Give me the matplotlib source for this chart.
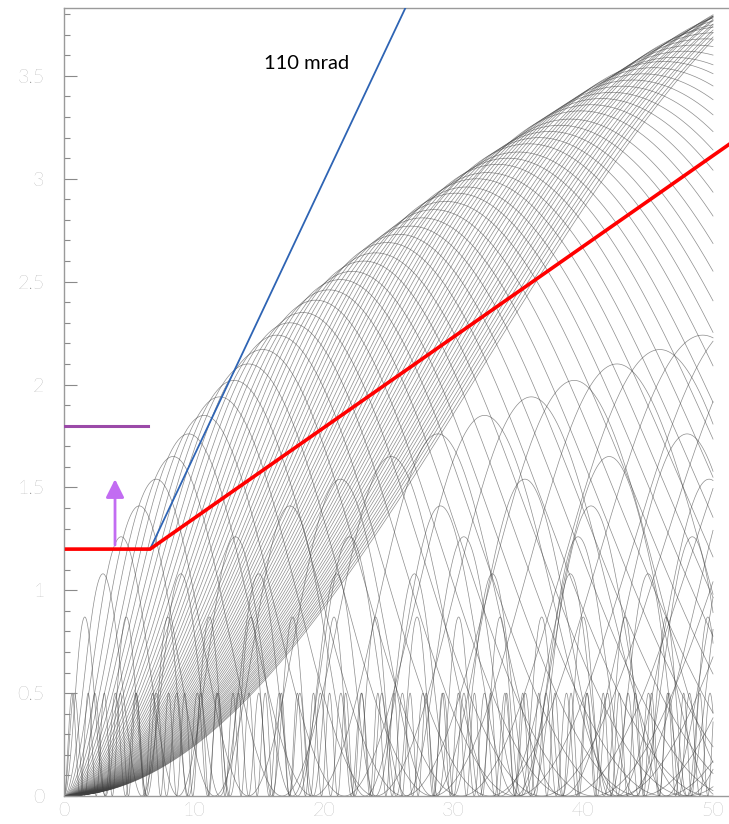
import numpy as np
import matplotlib
matplotlib.use("Agg")
import matplotlib.pyplot as plt
from matplotlib.ticker import MultipleLocator, FixedLocator

# ---------------- data ----------------
# helical tracks: z of first maximum and maximum radius of each track
track_peak_z = [1.6, 3.0, 4.4, 5.8, 7.1, 8.4, 9.6, 10.8, 12.0, 13.1, 14.2,
                15.3, 16.4, 17.4, 18.4, 19.4, 20.4, 21.3, 22.2, 23.1, 24.0,
                24.9, 25.8, 26.7, 27.6, 28.5, 29.4, 30.2, 31.0, 31.8, 32.6,
                33.4, 34.2, 35.0, 35.8, 36.6, 37.4, 38.2, 39.0, 39.8, 40.6,
                41.4, 42.2, 43.0, 43.8, 44.6, 45.4, 46.2, 47.0, 47.8, 48.6,
                49.4, 50.2, 51.0, 51.8, 52.6, 53.4, 54.2, 55.0, 55.8, 56.6,
                57.4, 58.2, 59.0, 59.8, 60.6, 61.4, 62.2, 63.0, 63.8, 64.6]
track_peak_r = [0.87, 1.08, 1.26, 1.41, 1.54, 1.65, 1.76, 1.85, 1.94, 2.02, 2.10,
                2.17, 2.24, 2.30, 2.35, 2.41, 2.46, 2.51, 2.55, 2.60, 2.64,
                2.69, 2.73, 2.77, 2.81, 2.85, 2.89, 2.93, 2.96, 3.00, 3.03,
                3.07, 3.10, 3.13, 3.17, 3.20, 3.23, 3.26, 3.29, 3.33, 3.36,
                3.39, 3.42, 3.45, 3.48, 3.51, 3.54, 3.57, 3.59, 3.62, 3.65,
                3.68, 3.71, 3.74, 3.76, 3.79, 3.82, 3.84, 3.87, 3.90, 3.92,
                3.95, 3.98, 4.00, 4.03, 4.05, 4.08, 4.10, 4.13, 4.15, 4.18]
# low-momentum loopers (max radius 0.5)
looper_peak_z = [0.62, 0.79]
looper_peak_r = [0.50, 0.50]
track_z_end = 50.0

# drawn lines
red_z = [0.2, 6.63, 51.3]
red_r = [1.2, 1.2, 3.17]
blue_z = [6.63, 26.3]
blue_r = [1.2, 3.83]
purple_z = [0.0, 6.5]
purple_r = [1.8, 1.8]
arrow_z = 3.93
arrow_r = [1.22, 1.54]
label_text = "110 mrad"
label_pos = (18.7, 3.56)

x_ticks = [0, 10, 20, 30, 40, 50]
y_ticks = [0, 0.5, 1, 1.5, 2, 2.5, 3, 3.5]
y_ticklabels = ["0", "0.5", "1", "1.5", "2", "2.5", "3", "3.5"]

# ---------------- figure ----------------
W, H = 729, 824
fig = plt.figure(figsize=(W / 100, H / 100), dpi=100)
ax = fig.add_axes([64 / W, (H - 796) / H, (W - 64) / W, (796 - 8) / H])
ax.set_xlim(0, 51.23)
ax.set_ylim(0, 3.83)

z = np.linspace(0, track_z_end, 4000)
for zp, rp in zip(track_peak_z + looper_peak_z, track_peak_r + looper_peak_r):
    r = 0.5 * rp * (1.0 - np.cos(np.pi * z / zp))
    ax.plot(z, r, color="#404040", lw=0.5, alpha=0.6, zorder=1)

ax.plot(blue_z, blue_r, color="#2e64b4", lw=1.3, zorder=3)
ax.plot(red_z, red_r, color="#ff0000", lw=2.6, zorder=4, solid_joinstyle="miter")
ax.plot(purple_z, purple_r, color="#9b4aa8", lw=2.2, zorder=4)
ax.annotate("", xy=(arrow_z, arrow_r[1]), xytext=(arrow_z, arrow_r[0]),
            arrowprops=dict(arrowstyle="-|>,head_length=1.1,head_width=0.55",
                            color="#c26cf2", lw=2.0, shrinkA=0, shrinkB=0),
            zorder=5)
ax.text(label_pos[0], label_pos[1], label_text, ha="center", va="center",
        fontsize=14.5, family=["Lato", "DejaVu Sans"], color="#000000")

# spines
for s in ["left", "bottom", "top"]:
    ax.spines[s].set_color("#9a9a9a")
    ax.spines[s].set_linewidth(1.0)
ax.spines["right"].set_visible(False)

ax.xaxis.set_major_locator(FixedLocator(x_ticks))
ax.yaxis.set_major_locator(FixedLocator(y_ticks))
ax.yaxis.set_minor_locator(MultipleLocator(0.1))
ax.set_yticklabels(y_ticklabels)
ax.set_xticklabels([str(t) for t in x_ticks])
ax.tick_params(axis="y", which="major", direction="in", length=9, width=0.8,
               color="#8a8a8a", labelcolor="#8e8e8e", labelsize=14, pad=14)
ax.tick_params(axis="y", which="minor", direction="in", length=4.5, width=0.8,
               color="#8a8a8a")
ax.tick_params(axis="x", which="major", direction="in", length=0,
               labelcolor="#8e8e8e", labelsize=14, pad=4)
ax.tick_params(top=False, right=False)
for lab in ax.get_xticklabels() + ax.get_yticklabels():
    lab.set_family(["Lato", "DejaVu Sans"])
    lab.set_fontweight("light")

fig.savefig("out.png", dpi=100)
